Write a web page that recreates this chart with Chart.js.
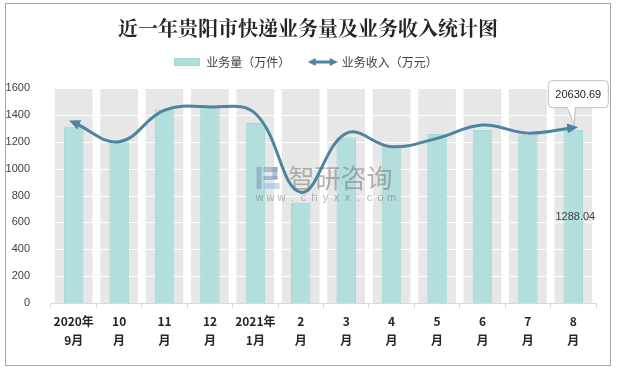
<!DOCTYPE html>
<html><head><meta charset="utf-8">
<script src="https://cdn.jsdelivr.net/npm/chart.js@4"></script>
<style>html,body{margin:0;padding:0;background:#fff;}#wrap{width:618px;height:370px;position:relative;}</style>
</head><body><div id="wrap"><canvas id="c" width="618" height="370"></canvas></div>
<script>
const categories = [['2020年','9月'],['10','月'],['11','月'],['12','月'],['2021年','1月'],['2','月'],['3','月'],['4','月'],['5','月'],['6','月'],['7','月'],['8','月']];
const volume = [1311, 1196, 1442, 1450, 1339, 746, 1232, 1168, 1257, 1287, 1252, 1288.04];
const revenue = [21240, 18980, 22690, 23070, 22300, 13030, 19960, 18390, 19370, 20940, 19990, 20630.69];
const backgroundBand = [1600, 1600, 1600, 1600, 1600, 1600, 1600, 1600, 1600, 1600, 1600, 1600];
const yMin = 0, yMax = 1600, yStep = 200;
const revenueAxisMax = 25300;
const titleText = '近一年贵阳市快递业务量及业务收入统计图';
const seriesNames = ['业务量（万件）', '业务收入（万元）'];

const LINE_COLOR = '#4d84a0';
const BAR_COLOR = '#b2dfdb';
const BAND_COLOR = '#e7e7e7';
const CJK = "'Noto Sans CJK SC', 'Noto Sans', sans-serif";

function barIcon(){
  const c = document.createElement('canvas'); c.width = 26; c.height = 8;
  const x = c.getContext('2d'); x.fillStyle = BAR_COLOR; x.fillRect(0,0,26,8);
  x.strokeStyle = '#a3d8d3'; x.strokeRect(0.5,0.5,25,7); return c;
}
function lineIcon(){
  const c = document.createElement('canvas'); c.width = 30; c.height = 10;
  const x = c.getContext('2d'); x.fillStyle = LINE_COLOR; x.strokeStyle = LINE_COLOR; x.lineWidth = 3;
  x.beginPath(); x.moveTo(6,5); x.lineTo(24,5); x.stroke();
  x.beginPath(); x.moveTo(0,5); x.lineTo(8,1); x.lineTo(8,9); x.closePath(); x.fill();
  x.beginPath(); x.moveTo(30,5); x.lineTo(22,1); x.lineTo(22,9); x.closePath(); x.fill();
  return c;
}

function arrowHead(ctx, px, py, dx, dy){
  const len = Math.hypot(dx, dy) || 1; const ux = dx/len, uy = dy/len;
  const tipX = px + ux*5, tipY = py + uy*5;
  const bx = px - ux*6, by = py - uy*6;
  ctx.beginPath();
  ctx.moveTo(tipX, tipY);
  ctx.lineTo(bx - uy*5, by + ux*5);
  ctx.lineTo(bx + uy*5, by - ux*5);
  ctx.closePath(); ctx.fill();
}

const decor = {
  id: 'decor',
  beforeLayout(chart){
    const lg = chart.legend;
    if (lg && !lg._patched) {
      const orig = lg.fit;
      lg.fit = function(){ orig.apply(this, arguments); this.height += 10; };
      lg._patched = true;
    }
  },
  afterLayout(chart){
    if (chart.titleBlock) { chart.titleBlock.left += 7; chart.titleBlock.right += 7; }
    if (chart.legend) { chart.legend.left += 5; chart.legend.right += 5; }
  },
  afterDatasetDraw(chart, args){
    const ctx = chart.ctx, ca = chart.chartArea;
    if (args.index === 0) {
      const y = chart.scales.y;
      ctx.save(); ctx.strokeStyle = '#ffffff'; ctx.lineWidth = 1;
      y.ticks.forEach(t => {
        const py = Math.round(y.getPixelForValue(t.value)) + 0.5;
        ctx.beginPath(); ctx.moveTo(ca.left, py); ctx.lineTo(ca.right, py); ctx.stroke();
      });
      ctx.restore();
    }
    if (args.index === 1) {
      ctx.save();
      const cx = (ca.left + ca.right) / 2;
      ctx.fillStyle = 'rgba(120,150,185,0.55)';
      ctx.fillRect(cx - 67, 167, 5, 22);
      ctx.fillRect(cx - 60, 167, 14, 5);
      ctx.fillRect(cx - 51, 167, 5, 12);
      ctx.fillRect(cx - 60, 176, 14, 4);
      ctx.fillStyle = 'rgba(140,190,225,0.55)';
      ctx.fillRect(cx - 60, 183, 16, 6);
      ctx.fillStyle = 'rgba(110,110,110,0.5)';
      ctx.font = "26px " + CJK; ctx.textAlign = 'left'; ctx.textBaseline = 'middle';
      ctx.fillText('智研咨询', cx - 35, 178);
      ctx.font = "11px 'Liberation Sans', Arial"; ctx.textAlign = 'center';
      const w = 'www.chyxx.com';
      for (let i = 0; i < w.length; i++) ctx.fillText(w[i], cx - 64 + i*11, 198);
      ctx.restore();
    }
    if (args.index === 2) {
      const pts = chart.getDatasetMeta(2).data;
      ctx.save(); ctx.fillStyle = LINE_COLOR;
      const f = pts[0], f2 = pts[1];
      let dx = f.x - f.cp2x, dy = f.y - f.cp2y;
      if (!isFinite(dx) || Math.hypot(dx,dy) < 0.5) { dx = f.x - f2.x; dy = f.y - f2.y; }
      arrowHead(ctx, f.x, f.y, dx, dy);
      const l = pts[pts.length-1], l2 = pts[pts.length-2];
      dx = l.x - l.cp1x; dy = l.y - l.cp1y;
      if (!isFinite(dx) || Math.hypot(dx,dy) < 0.5) { dx = l.x - l2.x; dy = l.y - l2.y; }
      arrowHead(ctx, l.x, l.y, dx, dy);
      ctx.restore();
    }
  },
  afterDraw(chart){
    const ctx = chart.ctx;
    ctx.save();
    const bars = chart.getDatasetMeta(1).data;
    const last = bars[bars.length-1];
    ctx.fillStyle = '#404040'; ctx.font = "11px 'Liberation Sans', Arial";
    ctx.textAlign = 'center'; ctx.textBaseline = 'middle';
    ctx.fillText(volume[volume.length-1].toFixed(2), last.x + 2, (last.y + last.base)/2 + 1);
    const pts = chart.getDatasetMeta(2).data; const p = pts[pts.length-1];
    const L = p.x - 25, R = p.x + 35, T = p.y - 47, B = p.y - 20, r = 4;
    ctx.beginPath();
    ctx.moveTo(L + r, T); ctx.lineTo(R - r, T); ctx.quadraticCurveTo(R, T, R, T + r);
    ctx.lineTo(R, B - r); ctx.quadraticCurveTo(R, B, R - r, B);
    ctx.lineTo(p.x + 2, B); ctx.lineTo(p.x + 1, p.y - 3); ctx.lineTo(p.x - 6, B);
    ctx.lineTo(L + r, B); ctx.quadraticCurveTo(L, B, L, B - r);
    ctx.lineTo(L, T + r); ctx.quadraticCurveTo(L, T, L + r, T); ctx.closePath();
    ctx.fillStyle = '#ffffff'; ctx.fill();
    ctx.strokeStyle = '#bfbfbf'; ctx.lineWidth = 1; ctx.stroke();
    ctx.fillStyle = '#262626'; ctx.font = "11px 'Liberation Sans', Arial";
    ctx.fillText(revenue[revenue.length-1].toFixed(2), (L + R)/2, (T + B)/2 + 0.5);
    ctx.strokeStyle = '#a6a6a6'; ctx.lineWidth = 1;
    ctx.strokeRect(5.5, 3.5, 605, 362);
    ctx.restore();
  }
};

new Chart(document.getElementById('c'), {
  type: 'bar',
  data: {
    labels: categories,
    datasets: [
      { label: 'band', data: backgroundBand, backgroundColor: BAND_COLOR, borderWidth: 0,
        barPercentage: 0.83, categoryPercentage: 1, grouped: false, order: 3, yAxisID: 'y' },
      { label: seriesNames[0], data: volume, backgroundColor: BAR_COLOR, borderColor: '#a3d8d3', borderWidth: 1,
        barPercentage: 0.43, categoryPercentage: 1, grouped: false, order: 2, yAxisID: 'y' },
      { type: 'line', label: seriesNames[1], data: revenue, borderColor: LINE_COLOR, borderWidth: 3,
        tension: 0.4, pointRadius: 0, fill: false, order: 1, yAxisID: 'y1', borderCapStyle: 'round' }
    ]
  },
  options: {
    responsive: false, devicePixelRatio: 1, animation: false, events: [],
    layout: { padding: { left: 6, right: 22, top: 0, bottom: 3 } },
    plugins: {
      tooltip: { enabled: false },
      title: { display: true, text: titleText, color: '#262626',
        font: { family: "'Noto Serif CJK SC', " + CJK, size: 20, weight: 'bold' },
        padding: { top: 16, bottom: 8 } },
      legend: {
        display: true, position: 'top',
        labels: {
          usePointStyle: true, pointStyleWidth: 26, padding: 8,
          font: { family: CJK, size: 12 }, color: '#404040',
          generateLabels: () => [
            { text: seriesNames[0] + '\u3000  ', pointStyle: barIcon(), datasetIndex: 1, fontColor: '#404040', lineWidth: 0, strokeStyle: 'rgba(0,0,0,0)', fillStyle: BAR_COLOR, hidden: false },
            { text: seriesNames[1], pointStyle: lineIcon(), datasetIndex: 2, fontColor: '#404040', lineWidth: 0, strokeStyle: 'rgba(0,0,0,0)', fillStyle: LINE_COLOR, hidden: false }
          ]
        }
      }
    },
    scales: {
      x: {
        offset: true,
        grid: { display: true, drawOnChartArea: false, drawTicks: true, tickLength: 5, color: '#d9d9d9', offset: true },
        border: { display: true, color: '#d9d9d9', z: 1 },
        ticks: { color: '#262626', font: { family: CJK, size: 12, weight: 'bold', lineHeight: 1.6 }, padding: 4, maxRotation: 0, autoSkip: false },
        afterFit(s){ s.height = 64; }
      },
      y: {
        min: yMin, max: yMax,
        ticks: { stepSize: yStep, color: '#404040', font: { family: "'Liberation Sans', Arial", size: 11 }, padding: 13,
          callback: v => String(v) },
        grid: { display: false }, border: { display: false },
        afterFit(s){ s.width = 45; }
      },
      y1: { display: false, min: 0, max: revenueAxisMax }
    }
  },
  plugins: [decor]
});
</script>
</body></html>
